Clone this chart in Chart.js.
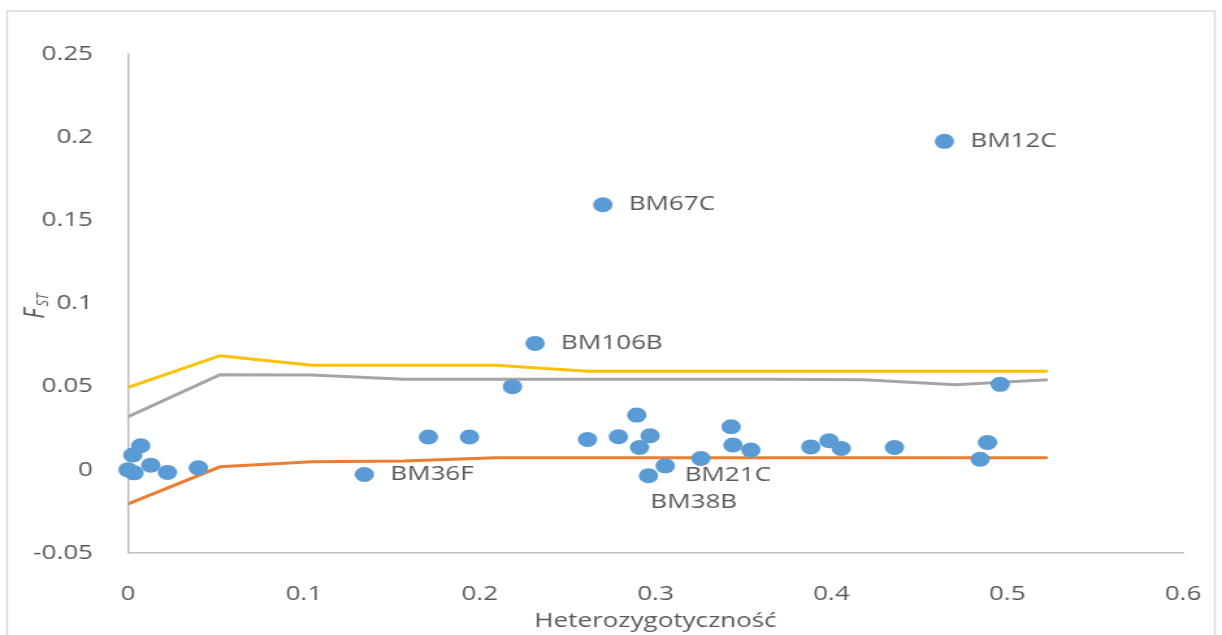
<!DOCTYPE html>
<html><head><meta charset="utf-8">
<script src="https://cdn.jsdelivr.net/npm/chart.js@4.4.1/dist/chart.umd.min.js"></script>
<style>
html,body{margin:0;padding:0;background:#fff;overflow:hidden;}
#wrap{width:940px;height:635px;transform:scaleX(1.3);transform-origin:0 0;}
canvas{display:block;}
</style></head><body>
<div id="wrap"><canvas id="c" width="940" height="635"></canvas></div>
<script>
// Threshold curves (x = heterozygosity)
const thrX    = [0, 0.0523, 0.1046, 0.1569, 0.2092, 0.2615, 0.3138, 0.3661, 0.4184, 0.4707, 0.523];
const upperQ  = [0.0495, 0.0686, 0.0629, 0.0629, 0.0629, 0.0593, 0.0593, 0.0593, 0.0593, 0.0593, 0.0593];
const medianQ = [0.0319, 0.0572, 0.0570, 0.0544, 0.0544, 0.0544, 0.0544, 0.0544, 0.0542, 0.0512, 0.0542];
const lowerQ  = [-0.0205, 0.0018, 0.0048, 0.0053, 0.0072, 0.0072, 0.0072, 0.0072, 0.0072, 0.0072, 0.0072];

// Loci
const locusHet = [0, 0.0034, 0.0027, 0.0072, 0.0129, 0.0224, 0.040, 0.1344, 0.1708, 0.1942, 0.2186,
  0.2315, 0.2613, 0.270, 0.2789, 0.2893, 0.2909, 0.2969, 0.296, 0.3055, 0.3258, 0.343, 0.344,
  0.3542, 0.3883, 0.3987, 0.4056, 0.4359, 0.4643, 0.4846, 0.4888, 0.496];
const locusFst = [0, -0.0018, 0.0089, 0.0145, 0.0028, -0.0016, 0.0012, -0.0028, 0.0197, 0.0197, 0.0500,
  0.0760, 0.0182, 0.1594, 0.0199, 0.0329, 0.0134, 0.0205, -0.0036, 0.0024, 0.0068, 0.0259, 0.0149,
  0.0119, 0.0138, 0.0175, 0.0128, 0.0134, 0.1975, 0.0064, 0.0164, 0.0514];
const locusNames = ['', '', '', '', '', '', '', 'BM36F', '', '', '',
  'BM106B', '', 'BM67C', '', '', '', '', 'BM38B', 'BM21C', '', '', '',
  '', '', '', '', '', 'BM12C', '', '', ''];

const xTicks = [0, 0.1, 0.2, 0.3, 0.4, 0.5, 0.6];
const xTickLabels = ['0', '0.1', '0.2', '0.3', '0.4', '0.5', '0.6'];
const yTicks = [-0.05, 0, 0.05, 0.1, 0.15, 0.2, 0.25];
const yTickLabels = ['-0.05', '0', '0.05', '0.1', '0.15', '0.2', '0.25'];

const xTitle = 'Heterozygotyczność';
const yTitleMain = 'F';
const yTitleSub = 'ST';

// label placement (style only)
const labelOffsets = { BM38B: [1.5, 26], BM21C: [15, 9] };
const defaultLabelOffset = [20, 0];

const TEXT = '#595959';
const FONT = "'Open Sans', sans-serif";
Chart.defaults.font.family = FONT;
Chart.defaults.color = TEXT;

const pts = locusHet.map((x, i) => ({x, y: locusFst[i]}));
const line = arr => thrX.map((x, i) => ({x, y: arr[i]}));
const findLabel = (ticks, labels, v) => labels[ticks.findIndex(t => Math.abs(t - v) < 1e-9)];

const framePlugin = {
  id: 'frame',
  beforeDraw(chart) {
    const ctx = chart.ctx;
    ctx.save();
    ctx.strokeStyle = '#D9D9D9';
    ctx.lineWidth = 1.5;
    ctx.strokeRect(5.5, 11, 929, 640);
    ctx.restore();
  },
  afterDraw(chart) {
    const ctx = chart.ctx;
    // y title F_ST
    ctx.save();
    ctx.translate(28, 306);
    ctx.rotate(-Math.PI / 2);
    ctx.fillStyle = TEXT;
    ctx.textBaseline = 'middle';
    ctx.textAlign = 'left';
    const fMain = "italic 21px " + FONT, fSub = "italic 13px " + FONT;
    ctx.font = fMain; const w1 = ctx.measureText(yTitleMain).width;
    ctx.font = fSub; const w2 = ctx.measureText(yTitleSub).width;
    const x0 = -(w1 + w2 + 2) / 2;
    ctx.font = fMain; ctx.fillText(yTitleMain, x0, 0);
    ctx.font = fSub; ctx.fillText(yTitleSub, x0 + w1 + 2, 5);
    ctx.restore();
  },
  afterDatasetsDraw(chart) {
    const ctx = chart.ctx;
    const meta = chart.getDatasetMeta(0);
    ctx.save();
    ctx.fillStyle = TEXT;
    ctx.font = "20px " + FONT;
    ctx.textBaseline = 'middle';
    ctx.textAlign = 'left';
    meta.data.forEach((el, i) => {
      const name = locusNames[i];
      if (!name) return;
      const off = labelOffsets[name] || defaultLabelOffset;
      ctx.fillText(name, el.x + off[0], el.y + off[1]);
    });
    ctx.restore();
  }
};

new Chart(document.getElementById('c'), {
  type: 'scatter',
  data: {
    datasets: [
      { label: 'Loci', data: pts, order: 0, backgroundColor: '#5B9BD5', borderColor: '#5B9BD5',
        pointRadius: 7.5, pointHoverRadius: 7.5, pointBorderWidth: 0, clip: false },
      { label: 'Górny', data: line(upperQ), showLine: true, order: 1, borderColor: '#FFC000',
        borderWidth: 3, pointRadius: 0, tension: 0 },
      { label: 'Mediana', data: line(medianQ), showLine: true, order: 2, borderColor: '#A5A5A5',
        borderWidth: 3, pointRadius: 0, tension: 0 },
      { label: 'Dolny', data: line(lowerQ), showLine: true, order: 3, borderColor: '#ED7D31',
        borderWidth: 3, pointRadius: 0, tension: 0 }
    ]
  },
  options: {
    responsive: false,
    animation: false,
    devicePixelRatio: 1,
    layout: { padding: { top: 54, right: 30, bottom: 0, left: 0 } },
    plugins: { legend: { display: false }, tooltip: { enabled: false } },
    scales: {
      x: {
        type: 'linear', min: 0, max: 0.6,
        afterBuildTicks: s => { s.ticks = xTicks.map(v => ({value: v})); },
        afterFit: s => { s.height = 82; s.paddingLeft = 0; s.paddingRight = 0; },
        grid: { display: false },
        border: { display: true, color: '#BFBFBF', width: 1.5 },
        ticks: { autoSkip: false, maxRotation: 0, padding: 21, color: TEXT, font: { size: 20 },
          callback: v => findLabel(xTicks, xTickLabels, v) },
        title: { display: true, text: xTitle, color: TEXT, font: { size: 20 }, padding: { top: 0, bottom: 2 } }
      },
      y: {
        type: 'linear', min: -0.05, max: 0.25,
        afterBuildTicks: s => { s.ticks = yTicks.map(v => ({value: v})); },
        afterFit: s => { s.width = 98.5; },
        grid: { display: false },
        border: { display: true, color: '#BFBFBF', width: 1.5 },
        ticks: { autoSkip: false, padding: 19, color: TEXT, font: { size: 20 },
          callback: v => findLabel(yTicks, yTickLabels, v) }
      }
    }
  },
  plugins: [framePlugin]
});
</script>
</body></html>
